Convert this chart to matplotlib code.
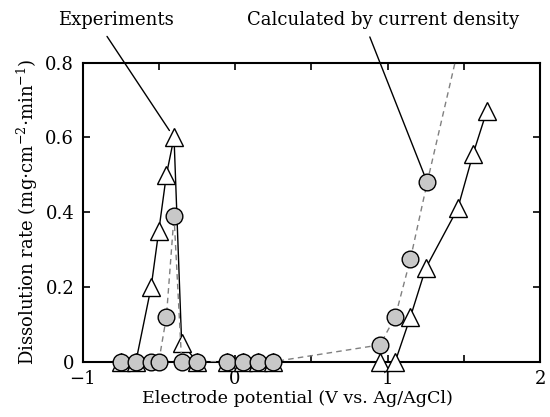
import matplotlib
matplotlib.use("Agg")
import matplotlib.pyplot as plt
from matplotlib.ticker import MultipleLocator, FixedLocator, FuncFormatter

plt.rcParams['font.family'] = ['DejaVu Serif']
plt.rcParams['mathtext.fontset'] = 'dejavuserif'

# Experiments (triangles)
exp_x = [-0.75, -0.65, -0.55, -0.50, -0.45, -0.40, -0.35, -0.25, -0.05, 0.05, 0.15, 0.25,
         0.95, 1.05, 1.15, 1.25, 1.46, 1.56, 1.65]
exp_y = [0, 0, 0.20, 0.35, 0.50, 0.60, 0.05, 0, 0, 0, 0, 0,
         0, 0, 0.12, 0.25, 0.41, 0.555, 0.67]

# Calculated by current density (circles)
calc_x = [-0.75, -0.65, -0.55, -0.50, -0.45, -0.40, -0.35, -0.25, -0.05, 0.05, 0.15, 0.25,
          0.95, 1.05, 1.15, 1.26, 1.55]
calc_y = [0, 0, 0, 0, 0.12, 0.39, 0, 0, 0, 0, 0, 0,
          0.045, 0.12, 0.275, 0.48, 0.99]

x_ticks = [-1, 0, 1, 2]
y_ticks = [0, 0.2, 0.4, 0.6, 0.8]
x_lim = (-1, 2)
y_lim = (0, 0.8)

fig = plt.figure(figsize=(5.5, 4.17), dpi=100)
ax = fig.add_axes([0.150, 0.1326, 0.832, 0.717])

# lines (clipped to axes)
ax.plot(exp_x, exp_y, color='black', lw=1.0, zorder=2)
ax.plot(calc_x, calc_y, color='#808080', lw=1.0, ls=(0, (4, 3)), zorder=3)

# markers (not clipped, only points inside the plotted range)
ex = [x for x, y in zip(exp_x, exp_y) if y <= y_lim[1]]
ey = [y for y in exp_y if y <= y_lim[1]]
cx = [x for x, y in zip(calc_x, calc_y) if y <= y_lim[1]]
cy = [y for y in calc_y if y <= y_lim[1]]
ax.plot(ex, ey, ls='none', marker='^', ms=13, mfc='white', mec='black', mew=1.0,
        zorder=2.5, clip_on=False)
ax.plot(cx, cy, ls='none', marker='o', ms=12, mfc='#c8c8c8', mec='black', mew=1.0,
        zorder=4, clip_on=False)

ax.set_xlim(*x_lim)
ax.set_ylim(*y_lim)
ax.xaxis.set_major_locator(MultipleLocator(0.5))
ax.xaxis.set_major_formatter(FuncFormatter(
    lambda v, p: (str(int(round(v))).replace('-', '\u2212')
                  if any(abs(v - t) < 1e-6 for t in x_ticks) else '')))
ax.yaxis.set_major_locator(FixedLocator(y_ticks))
ax.yaxis.set_major_formatter(FuncFormatter(lambda v, p: '0' if v == 0 else f'{v:.1f}'))

ax.tick_params(direction='in', length=5, width=1.2, top=True, right=True,
               labelsize=13, pad=6)
for s in ax.spines.values():
    s.set_linewidth(1.5)
    s.set_zorder(1)

ax.set_xlabel('Electrode potential (V vs. Ag/AgCl)', fontsize=12.6, labelpad=2)
ax.xaxis.set_label_coords((297 - 82.7) / (540 - 82.7), -0.095)
ax.set_ylabel('Dissolution rate (mg$\\cdot$cm$^{-2}$$\\cdot$min$^{-1}$)', fontsize=13, labelpad=4)

ax.annotate('Experiments', xy=(-0.40, 0.60), xycoords='data',
            xytext=(116 / 550, 1 - 20 / 417), textcoords='figure fraction',
            ha='center', va='center', fontsize=13,
            arrowprops=dict(arrowstyle='-', color='black', lw=1.0,
                            shrinkA=4, shrinkB=6, relpos=(0.38, 0.0)),
            annotation_clip=False)
ax.annotate('Calculated by current density', xy=(1.26, 0.48), xycoords='data',
            xytext=(383 / 550, 1 - 20 / 417), textcoords='figure fraction',
            ha='center', va='center', fontsize=13,
            arrowprops=dict(arrowstyle='-', color='black', lw=1.0,
                            shrinkA=4, shrinkB=0, relpos=(0.44, 0.0)),
            annotation_clip=False)

fig.savefig('out.png', dpi=100)
